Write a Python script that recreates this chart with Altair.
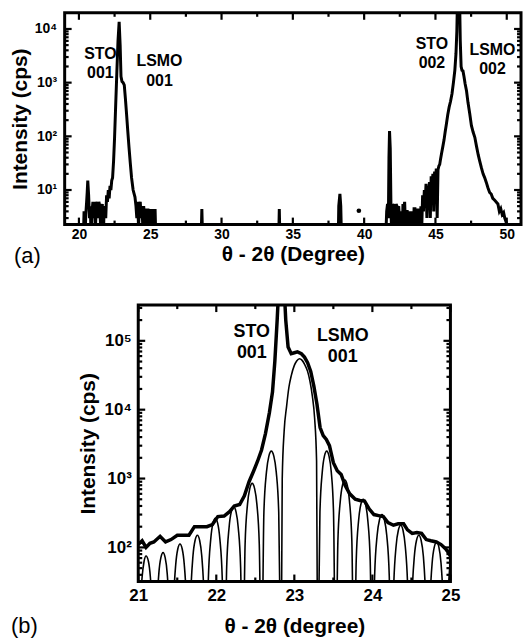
import altair as alt
import pandas as pd

FONT = "Liberation Sans"

# ---------------- panel (a): wide theta-2theta scan ----------------
scan_a_left = [
    (19.0, 1), (20.3, 1), (20.36, 4), (20.42, 1), (20.48, 3.5), (20.54, 6), (20.58, 9),
    (20.62, 15), (20.68, 8), (20.74, 3), (20.8, 5), (20.86, 1), (20.92, 4), (20.98, 6),
    (21.04, 3), (21.1, 6), (21.16, 2), (21.22, 5), (21.28, 6), (21.34, 3), (21.4, 6),
    (21.46, 5), (21.52, 2), (21.58, 4), (21.64, 5.5), (21.7, 1), (21.76, 4), (21.82, 5),
    (21.88, 3), (21.94, 8), (22.0, 6), (22.06, 10), (22.12, 7), (22.18, 12), (22.24, 10),
    (22.3, 15), (22.36, 17), (22.43, 35), (22.5, 96), (22.58, 400), (22.66, 1600),
    (22.74, 6000), (22.82, 13600), (22.89, 5000), (22.95, 1300), (23.02, 1050), (23.1, 1000),
    (23.18, 900), (23.26, 500), (23.34, 260), (23.42, 130), (23.51, 63), (23.6, 32),
    (23.69, 17), (23.8, 10), (23.93, 7.4), (24.0, 5), (24.06, 3), (24.12, 6), (24.18, 2),
    (24.24, 5), (24.3, 6), (24.36, 3), (24.42, 5), (24.48, 2), (24.54, 5), (24.6, 3),
    (24.66, 1), (24.72, 4.5), (24.78, 2), (24.84, 4.5), (24.9, 1), (24.96, 4.4), (25.02, 1),
    (25.08, 4.4), (25.14, 1), (25.22, 4.4), (25.28, 1), (25.34, 4.4), (25.4, 1),
]
scan_a_mid = [
    (25.4, 1), (28.56, 1), (28.62, 4.4), (28.68, 1), (34.0, 1), (34.05, 4.4), (34.1, 1),
    (38.18, 1), (38.22, 5), (38.3, 8.5), (38.36, 5), (38.42, 1), (41.5, 1),
]
scan_a_right = [
    (41.5, 1), (41.58, 4), (41.64, 5.5), (41.7, 3), (41.74, 40), (41.78, 125), (41.83, 60),
    (41.88, 5), (41.94, 1), (42.0, 5.5), (42.06, 4), (42.12, 5.5), (42.18, 2), (42.24, 5.5),
    (42.3, 5), (42.36, 1), (42.42, 5), (42.48, 3), (42.54, 1), (42.6, 4), (42.66, 1),
    (42.72, 5.5), (42.78, 4.5), (42.84, 6), (42.9, 2), (42.96, 4), (43.02, 4), (43.08, 1),
    (43.14, 4), (43.2, 2), (43.26, 4), (43.32, 1), (43.38, 4), (43.44, 1), (43.5, 4.5),
    (43.56, 4.5), (43.62, 1), (43.68, 4), (43.74, 4.5), (43.8, 2), (43.86, 4.5), (43.92, 1),
    (43.98, 5), (44.04, 2), (44.1, 8), (44.16, 4), (44.22, 10), (44.28, 6), (44.34, 13),
    (44.4, 3), (44.46, 12), (44.52, 8), (44.58, 14), (44.64, 3), (44.7, 18), (44.76, 12),
    (44.82, 20), (44.88, 4), (44.94, 22), (45.0, 15), (45.06, 25), (45.12, 3), (45.18, 24),
    (45.24, 28), (45.3, 30), (45.36, 38), (45.44, 50), (45.52, 65), (45.6, 85), (45.68, 120),
    (45.76, 165), (45.86, 250), (45.96, 350), (46.06, 450), (46.16, 620), (46.26, 1000),
    (46.36, 1700), (46.44, 3500), (46.5, 9000), (46.56, 60000), (46.68, 60000), (46.74, 6000),
    (46.8, 2000), (46.86, 1700), (46.93, 1650), (47.0, 1300), (47.08, 950), (47.18, 700),
    (47.28, 430), (47.4, 270), (47.52, 160), (47.64, 120), (47.76, 96), (47.88, 65),
    (48.0, 45), (48.1, 35), (48.22, 26), (48.34, 20), (48.45, 17), (48.56, 14), (48.68, 11),
    (48.8, 9), (48.91, 8.4), (49.02, 7), (49.14, 6.5), (49.26, 6), (49.38, 5.5), (49.48, 4),
    (49.58, 4.5), (49.68, 3.5), (49.78, 3.8), (49.86, 3), (49.96, 2.5), (50.06, 1), (51.0, 1),
]
scan_a_dot = [(39.63, 4.1)]

top_x_major = [20, 25, 30, 35, 40, 45, 50]
top_x_minor = [22.5, 27.5, 32.5, 37.5, 42.5, 47.5]
top_y_major = [10, 100, 1000, 10000]
top_y_minor = [3, 4, 5, 6, 7, 8, 9, 20, 30, 40, 50, 60, 70, 80, 90,
               200, 300, 400, 500, 600, 700, 800, 900,
               2000, 3000, 4000, 5000, 6000, 7000, 8000, 9000]

ann_a_text = ["STO\n001", "LSMO\n001", "STO\n002", "LSMO\n002"]
ann_a_x = [21.5, 25.65, 44.75, 49.0]
ann_a_y = [3480, 2480, 5330, 4130]

# ---------------- panel (b): zoom around the 001 reflections ----------------
meas_b = [
    (21.0, 110), (21.05, 125), (21.1, 100), (21.15, 115), (21.2, 120), (21.28, 145),
    (21.35, 120), (21.42, 130), (21.5, 150), (21.58, 150), (21.65, 150), (21.72, 200),
    (21.8, 200), (21.88, 200), (21.95, 215), (22.02, 280), (22.1, 285), (22.17, 330),
    (22.23, 400), (22.3, 420), (22.36, 560), (22.42, 900), (22.48, 1300), (22.53, 1800),
    (22.58, 2600), (22.63, 4500), (22.68, 9000), (22.72, 18000), (22.75, 50000),
    (22.78, 200000), (22.81, 1000000), (22.86, 1000000), (22.89, 200000), (22.92, 81000),
    (22.96, 65000), (23.0, 67000), (23.04, 69000), (23.09, 65000), (23.13, 58000),
    (23.17, 48000), (23.21, 36000), (23.25, 22000), (23.29, 12000), (23.33, 5500),
    (23.37, 4200), (23.41, 3700), (23.45, 3000), (23.5, 1700), (23.55, 1300), (23.6, 1150),
    (23.65, 800), (23.71, 600), (23.78, 500), (23.84, 480), (23.9, 470), (23.96, 360),
    (24.02, 300), (24.08, 290), (24.14, 280), (24.2, 230), (24.27, 210), (24.33, 220),
    (24.4, 220), (24.45, 180), (24.51, 160), (24.57, 165), (24.63, 160), (24.69, 130),
    (24.75, 125), (24.82, 120), (24.88, 110), (24.94, 95), (24.98, 82), (25.0, 75),
]
sim_b_left = [
    (21.0, 1),
    (21.02, 9.8), (21.05, 37.5), (21.075, 63), (21.10, 75), (21.13, 63), (21.155, 37.5), (21.185, 9.8), (21.21, 1),
    (21.236, 11), (21.264, 42), (21.29, 71), (21.318, 84), (21.345, 71), (21.371, 42), (21.399, 11), (21.425, 1),
    (21.451, 15), (21.48, 56), (21.506, 94), (21.535, 112), (21.564, 94), (21.59, 56), (21.619, 15), (21.645, 1),
    (21.672, 19.5), (21.701, 75), (21.728, 126), (21.758, 150), (21.787, 126), (21.814, 75), (21.843, 19.5), (21.87, 1),
    (21.898, 34), (21.929, 132), (21.957, 223), (21.988, 265), (22.018, 223), (22.046, 132), (22.077, 34), (22.105, 1),
    (22.133, 51), (22.164, 195), (22.192, 328), (22.223, 390), (22.253, 328), (22.281, 195), (22.312, 51), (22.34, 1),
    (22.369, 110), (22.40, 425), (22.429, 714), (22.46, 850), (22.491, 714), (22.52, 425), (22.551, 110), (22.58, 1),
    (22.61, 325), (22.643, 1250), (22.673, 2100), (22.705, 2500), (22.738, 2100), (22.768, 1250), (22.80, 325), (22.83, 1),
]
sim_b_center = [
    (22.83, 1), (22.845, 1000), (22.87, 5000), (22.90, 11000), (22.93, 21000), (22.96, 31000),
    (23.00, 44000), (23.03, 51000), (23.065, 55000), (23.10, 52000), (23.13, 46000),
    (23.17, 36000), (23.20, 26000), (23.23, 16000), (23.26, 7500), (23.285, 1800), (23.30, 1),
]
sim_b_right = [
    (23.30, 1),
    (23.328, 325), (23.358, 1250), (23.385, 2100), (23.415, 2500), (23.445, 2100), (23.473, 1250), (23.502, 325), (23.53, 1),
    (23.558, 124), (23.589, 475), (23.617, 800), (23.648, 950), (23.678, 800), (23.706, 475), (23.737, 124), (23.765, 1),
    (23.793, 65), (23.824, 250), (23.852, 420), (23.883, 500), (23.913, 420), (23.941, 250), (23.972, 65), (24.0, 1),
    (24.029, 39), (24.061, 150), (24.091, 252), (24.123, 300), (24.154, 252), (24.184, 150), (24.216, 39), (24.245, 1),
    (24.273, 27), (24.304, 105), (24.332, 176), (24.363, 210), (24.393, 176), (24.421, 105), (24.452, 27), (24.48, 1),
    (24.508, 19.5), (24.538, 75), (24.565, 126), (24.595, 150), (24.625, 126), (24.653, 75), (24.682, 19.5), (24.71, 1),
    (24.737, 15.6), (24.766, 60), (24.793, 101), (24.823, 120), (24.852, 101), (24.879, 60), (24.908, 15.6), (24.935, 1),
    (24.962, 13), (24.991, 50), (25.018, 84), (25.048, 100),
]

bot_x_major = [21, 22, 23, 24, 25]
bot_x_minor = [21.5, 22.5, 23.5, 24.5]
bot_y_major = [100, 1000, 10000, 100000]
bot_y_minor = [40, 50, 60, 70, 80, 90, 200, 300, 400, 500, 600, 700, 800, 900,
               2000, 3000, 4000, 5000, 6000, 7000, 8000, 9000,
               20000, 30000, 40000, 50000, 60000, 70000, 80000, 90000, 200000, 300000]

ann_b_text = ["STO\n001", "LSMO\n001"]
ann_b_x = [22.455, 23.62]
ann_b_y = [134500, 118000]

# ---------------- helpers ----------------
SUP = "'10' + ['\u2070','\u00b9','\u00b2','\u00b3','\u2074','\u2075','\u2076'][round(log(datum.value)/LN10)]"


def df_xy(pairs):
    return pd.DataFrame(pairs, columns=["x", "y"])


def tick_layers(xs, ys, x_major, x_minor, y_major, y_minor, x0, x1, H, big=7, small=4):
    layers = []
    for vals, size in ((x_major, big), (x_minor, small)):
        d = pd.DataFrame({"x": vals})
        for ya, yb in ((H, H - size), (0, size)):
            layers.append(alt.Chart(d).mark_rule(color="black", strokeWidth=2.2).encode(
                x=alt.X("x:Q", scale=xs), y=alt.value(ya), y2=alt.value(yb)))
    for vals, size in ((y_major, big), (y_minor, small)):
        d = pd.DataFrame({"y": vals})
        for xa, xb in ((x0, x0 + size), (x1, x1 - size)):
            layers.append(alt.Chart(d).mark_rule(color="black", strokeWidth=2.2).encode(
                y=alt.Y("y:Q", scale=ys), x=alt.value(xa), x2=alt.value(xb)))
    return layers


def ann_layer(texts, xs_vals, ys_vals, xs, ys, size, lh):
    d = pd.DataFrame({"x": xs_vals, "y": ys_vals, "t": texts})
    return alt.Chart(d).mark_text(font=FONT, fontWeight="bold", fontSize=size, lineBreak="\n",
                                  lineHeight=lh, align="center", baseline="middle",
                                  color="black").encode(
        x=alt.X("x:Q", scale=xs), y=alt.Y("y:Q", scale=ys), text="t:N")


def panel_label(text, dx, dy):
    return alt.Chart(pd.DataFrame({"t": [text]})).mark_text(
        font=FONT, fontSize=22, fontWeight="normal", align="left", baseline="middle",
        color="black").encode(x=alt.value(dx), y=alt.value(dy), text="t:N")


def x_axis(values, title, lsize, pad, tpad):
    return alt.Axis(values=values, ticks=False, domain=False, grid=False, format="d",
                    labelFont=FONT, labelFontSize=lsize, labelFontWeight="bold", labelColor="black",
                    labelPadding=pad, labelFlush=False, labelOverlap=False,
                    title=title, titleFont=FONT, titleFontSize=21, titleFontWeight="bold",
                    titleColor="black", titlePadding=tpad)


def y_axis(values, lsize, pad, tpad, offset=0):
    return alt.Axis(values=values, ticks=False, domain=False, grid=False, labelExpr=SUP,
                    labelFont=FONT, labelFontSize=lsize, labelFontWeight="bold", labelColor="black",
                    labelPadding=pad, labelOverlap=False, offset=offset,
                    title="Intensity (cps)", titleFont=FONT, titleFontSize=21,
                    titleFontWeight="bold", titleColor="black", titlePadding=tpad)


# ---------------- panel (a) ----------------
TW, TH = 459, 213
xs_a = alt.Scale(domain=[19, 51], nice=False, zero=False)
ys_a = alt.Scale(type="log", domain=[2.27, 20000], nice=False)

line_a = alt.layer(*[
    alt.Chart(df_xy(seg)).mark_line(color="black", strokeWidth=3, clip=True).encode(
        x=alt.X("x:Q", scale=xs_a, axis=x_axis(top_x_major, "\u03b8 - 2\u03b8 (Degree)", 14, 3, 2)),
        y=alt.Y("y:Q", scale=ys_a, axis=y_axis(top_y_major, 14, 8, 4)),
    )
    for seg in (scan_a_left, scan_a_mid, scan_a_right)
])
dot_a = alt.Chart(df_xy(scan_a_dot)).mark_circle(color="black", size=22, opacity=1).encode(
    x=alt.X("x:Q", scale=xs_a), y=alt.Y("y:Q", scale=ys_a))

top = alt.layer(
    line_a, dot_a,
    *tick_layers(xs_a, ys_a, top_x_major, top_x_minor, top_y_major, top_y_minor, 0, TW, TH),
    ann_layer(ann_a_text, ann_a_x, ann_a_y, xs_a, ys_a, 16, 20),
    panel_label("(a)", -51, TH + 32),
).properties(width=TW, height=TH,
             view=alt.ViewBackground(stroke="black", strokeWidth=3))

# ---------------- panel (b) ----------------
SHIFT = 74            # horizontal offset of panel (b) frame relative to panel (a)
BW, BH = 314, 278
xs_b = alt.Scale(domain=[21, 25], nice=False, zero=False, range=[SHIFT, SHIFT + BW])
ys_b = alt.Scale(type="log", domain=[32, 330000], nice=False)

sim_b = alt.layer(*[
    alt.Chart(df_xy(seg)).mark_line(color="black", strokeWidth=1.6, clip=True,
                                    interpolate="monotone").encode(
        x=alt.X("x:Q", scale=xs_b, axis=x_axis(bot_x_major, "\u03b8 - 2\u03b8 (degree)", 17, 6, 12)),
        y=alt.Y("y:Q", scale=ys_b, axis=y_axis(bot_y_major, 17, 7, 6, offset=-SHIFT)),
    )
    for seg in (sim_b_left, sim_b_center, sim_b_right)
])
meas_line = alt.Chart(df_xy(meas_b)).mark_line(color="black", strokeWidth=3.5, clip=True).encode(
    x=alt.X("x:Q", scale=xs_b), y=alt.Y("y:Q", scale=ys_b))

frame_b = alt.Chart(pd.DataFrame({"k": [0]})).mark_rect(
    fill=None, stroke="black", strokeWidth=3).encode(
    x=alt.value(SHIFT), x2=alt.value(SHIFT + BW), y=alt.value(0), y2=alt.value(BH))

bottom = alt.layer(
    sim_b, meas_line, frame_b,
    *tick_layers(xs_b, ys_b, bot_x_major, bot_x_minor, bot_y_major, bot_y_minor, SHIFT, SHIFT + BW, BH),
    ann_layer(ann_b_text, ann_b_x, ann_b_y, xs_b, ys_b, 18, 21),
    panel_label("(b)", -54, BH + 45),
).properties(width=SHIFT + BW, height=BH,
             view=alt.ViewBackground(stroke=None))

chart = alt.vconcat(top, bottom, spacing=34).properties(
    padding={"left": 0, "top": 0, "right": 0, "bottom": 0}
)

chart.save("out.html", embed_options={"renderer": "svg", "actions": False})
